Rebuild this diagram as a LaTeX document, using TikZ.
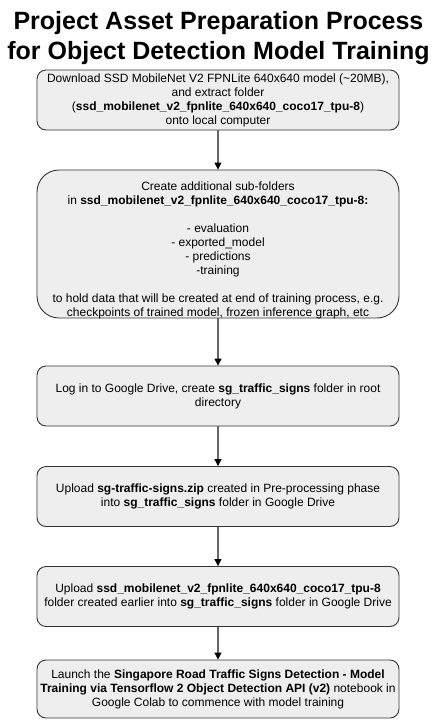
\documentclass[tikz,border=0pt]{standalone}
\usepackage{fontspec}
\setmainfont{Liberation Sans}
\usetikzlibrary{arrows.meta}
\definecolor{boxfill}{HTML}{EEEEEE}
\definecolor{boxline}{HTML}{333333}
\definecolor{arrline}{HTML}{666666}
\tikzset{
  stepbox/.style={draw=boxline, fill=boxfill, line width=0.9pt, rounded corners=9pt,
    minimum width=362pt, minimum height=60pt, inner sep=0pt, align=center,
    font=\fontsize{12pt}{14pt}\selectfont},
  plaintext/.style={inner sep=0pt, align=center, font=\fontsize{12pt}{14pt}\selectfont},
  flow/.style={draw=arrline, line width=1.2pt, -{Triangle[width=7pt,length=7pt,color=black]}},
}
\begin{document}
\begin{tikzpicture}[x=1pt,y=-1pt]
\useasboundingbox (0,0) rectangle (437,721);
\node[inner sep=0pt, align=center, font=\fontsize{25pt}{30pt}\bfseries\selectfont] (title) at (218.5,38)
  {Project Asset Preparation Process\\for Object Detection Model Training};
\node[stepbox] (b1) at (218,100)
  {Download SSD MobileNet V2 FPNLite 640x640 model (\textasciitilde20MB),\\
   and extract folder\\
   (\textbf{ssd\_mobilenet\_v2\_fpnlite\_640x640\_coco17\_tpu-8})\\
   onto local computer};
\node[stepbox, minimum height=148pt, rounded corners=22pt] (b2) at (218,244) {};
\node[plaintext] (b2t) at (218,250)
  {Create additional sub-folders\\
   in \textbf{ssd\_mobilenet\_v2\_fpnlite\_640x640\_coco17\_tpu-8:}\\[14pt]
   - evaluation\\
   - exported\_model\\
   - predictions\\
   -training\\[14pt]
   to hold data that will be created at end of training process, e.g.\\
   checkpoints of trained model, frozen inference graph, etc};
\node[stepbox] (b3) at (218,396)
  {Log in to Google Drive, create \textbf{sg\_traffic\_signs} folder in root\\
   directory};
\node[stepbox] (b4) at (218,496.5)
  {Upload \textbf{sg-traffic-signs.zip} created in Pre-processing phase\\
   into \textbf{sg\_traffic\_signs} folder in Google Drive};
\node[stepbox] (b5) at (218,596.5)
  {Upload \textbf{ssd\_mobilenet\_v2\_fpnlite\_640x640\_coco17\_tpu-8}\\
   folder created earlier into \textbf{sg\_traffic\_signs} folder in Google Drive};
\node[stepbox, minimum height=58pt] (b6) at (218,689)
  {Launch the \textbf{Singapore Road Traffic Signs Detection - Model}\\
   \textbf{Training via Tensorflow 2 Object Detection API (v2)} notebook in\\
   Google Colab to commence with model training};
\draw[flow] (b1) -- (b2);
\draw[flow] (b2) -- (b3);
\draw[flow] (b3) -- (b4);
\draw[flow] (b4) -- (b5);
\draw[flow] (b5) -- (b6);
\end{tikzpicture}
\end{document}
